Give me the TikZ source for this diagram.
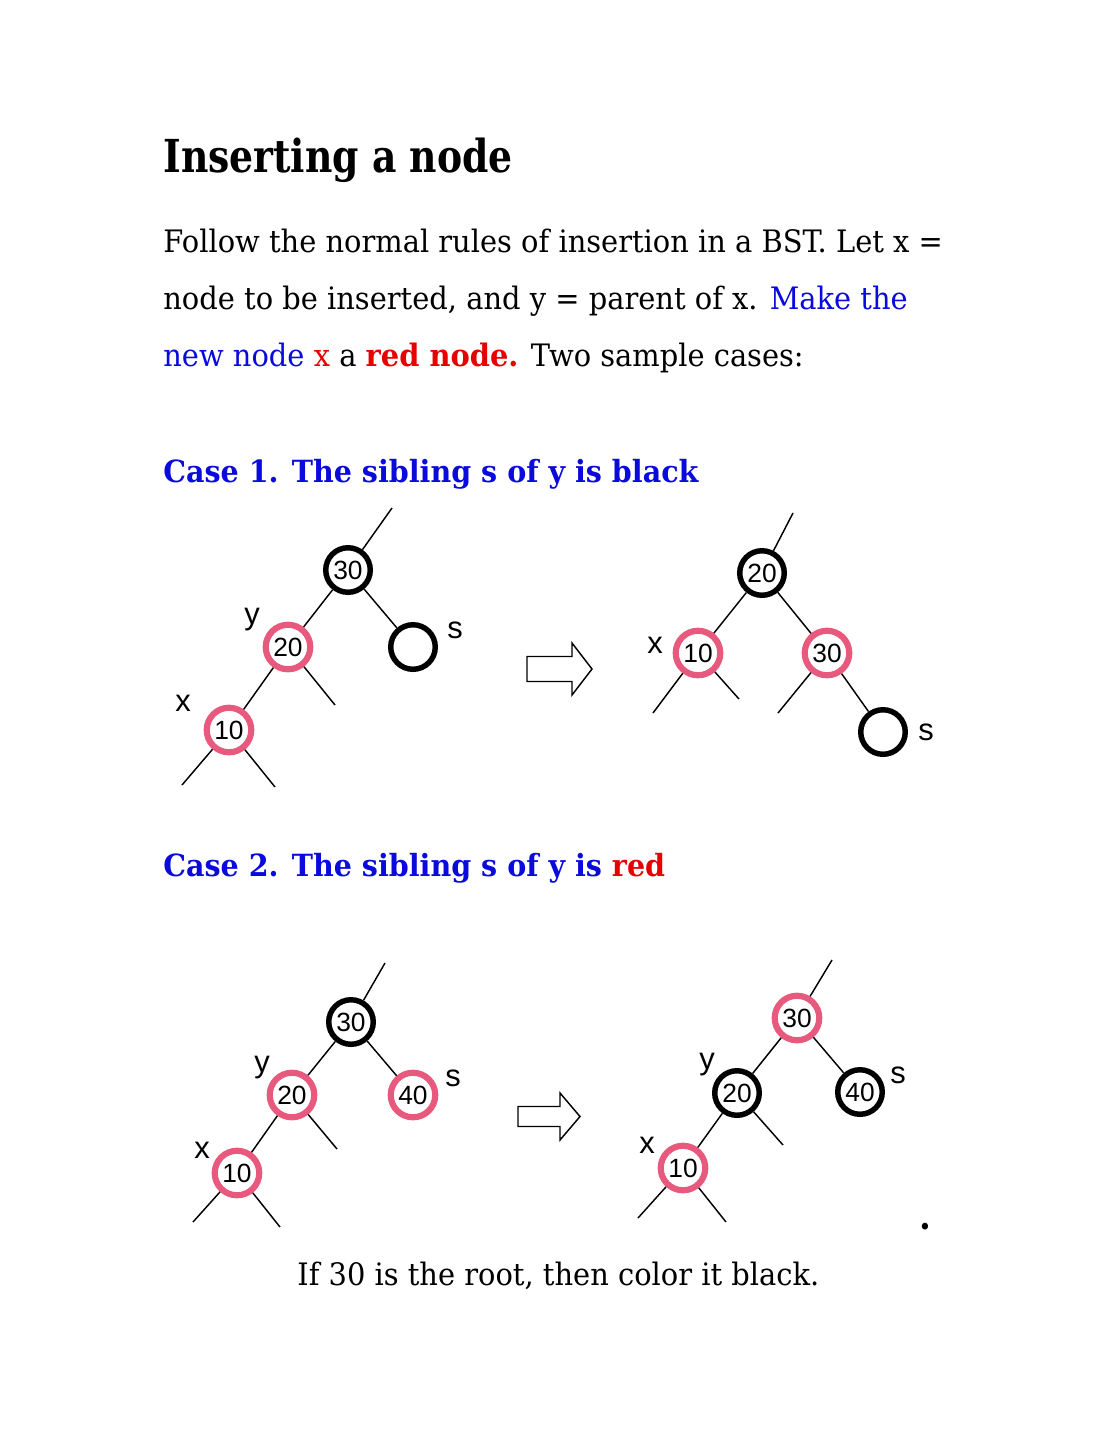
\documentclass[tikz,border=0pt]{standalone}
\usepackage{fontspec}
\setmainfont{DejaVu Serif}[FakeStretch=0.935]
\newfontfamily\titlefont{DejaVu Serif}[FakeStretch=0.83]
\newfontfamily\labelfont{Liberation Sans}
\usetikzlibrary{positioning}
\definecolor{rbpink}{HTML}{E85A7D}
\definecolor{txtblue}{HTML}{0A0ADC}
\definecolor{txtred}{HTML}{E60000}

\begin{document}
\begin{tikzpicture}[
        x=0.55pt, y=-0.55pt,
        body/.style={anchor=base west, inner sep=0pt, font=\fontsize{17}{20}\selectfont},
        heading/.style={anchor=base west, inner sep=0pt, text=txtblue, font=\fontsize{16.8}{20}\selectfont\bfseries},
        rbnode/.style={circle, minimum size=24.5pt, inner sep=0pt, fill=white, font=\labelfont\fontsize{14.5}{14.5}\selectfont},
        rednode/.style={rbnode, draw=rbpink, line width=3.4pt},
        blacknode/.style={rbnode, draw=black, line width=3pt},
        tag/.style={inner sep=0pt, font=\labelfont\fontsize{17}{17}\selectfont},
        edge/.style={line width=0.8pt},
        blockarr/.style={draw, line width=0.8pt, line join=miter}
    ]
        \useasboundingbox (0,0) rectangle (1113,1440);

        \node[anchor=base west, inner sep=0pt, font=\titlefont\fontsize{25}{30}\selectfont\bfseries] (title) at (163,172) {Inserting a node};
        \node[body] (line1) at (163,252) {Follow the normal rules of insertion in a BST. Let x =};
        \node[body] (line2) at (163,309) {node to be inserted, and y = parent of x. \textcolor{txtblue}{Make the}};
        \node[body] (line3) at (163,366) {\textcolor{txtblue}{new node} \textcolor{txtred}{x} a \textcolor{txtred}{\bfseries red node.} Two sample cases:};
        \node[heading] (case1) at (163,482) {Case 1. The sibling s of y is black};
        \node[heading] (case2) at (163,876) {Case 2. The sibling s of y is \textcolor{txtred}{red}};
        \node[body] (note) at (297,1285) {If 30 is the root, then color it black.};
        \node[body, font=\fontsize{20}{20}\selectfont\bfseries] (dot) at (919,1229) {.};

        % case 1, before
        \node[blacknode] (c1a30) at (348,570) {30};
        \node[rednode]   (c1a20) at (288,647) {20};
        \node[blacknode] (c1as)  at (413,647) {};
        \node[rednode]   (c1a10) at (229,730) {10};
        \node[tag] (c1ay) at (252,620) {y};
        \node[tag] (c1asl) at (455,630) {s};
        \node[tag] (c1ax) at (183,703) {x};
        \coordinate (c1atop) at (392,508);
        \coordinate (c1a20r) at (335,705);
        \coordinate (c1a10l) at (182,785);
        \coordinate (c1a10r) at (275,787);
        \draw[edge] (c1a30) -- (c1atop);
        \draw[edge] (c1a30) -- (c1a20);
        \draw[edge] (c1a30) -- (c1as);
        \draw[edge] (c1a20) -- (c1a10);
        \draw[edge] (c1a20) -- (c1a20r);
        \draw[edge] (c1a10) -- (c1a10l);
        \draw[edge] (c1a10) -- (c1a10r);

        \draw[blockarr] (527,656.5) -- (572,656.5) -- (572,643) -- (592,669) -- (572,695) -- (572,681.5) -- (527,681.5) -- cycle;

        % case 1, after
        \node[blacknode] (c1b20) at (762,573) {20};
        \node[rednode]   (c1b10) at (698,653) {10};
        \node[rednode]   (c1b30) at (827,653) {30};
        \node[blacknode] (c1bs)  at (883,732) {};
        \node[tag] (c1bx) at (655,645) {x};
        \node[tag] (c1bsl) at (926,732) {s};
        \coordinate (c1btop) at (793,513);
        \coordinate (c1b10l) at (653,713);
        \coordinate (c1b10r) at (739,699);
        \coordinate (c1b30l) at (778,713);
        \draw[edge] (c1b20) -- (c1btop);
        \draw[edge] (c1b20) -- (c1b10);
        \draw[edge] (c1b20) -- (c1b30);
        \draw[edge] (c1b30) -- (c1bs);
        \draw[edge] (c1b10) -- (c1b10l);
        \draw[edge] (c1b10) -- (c1b10r);
        \draw[edge] (c1b30) -- (c1b30l);

        % case 2, before
        \node[blacknode] (c2a30) at (351,1022) {30};
        \node[rednode]   (c2a20) at (292,1095) {20};
        \node[rednode]   (c2a40) at (413,1095) {40};
        \node[rednode]   (c2a10) at (237,1173) {10};
        \node[tag] (c2ay) at (262,1068) {y};
        \node[tag] (c2asl) at (453,1078) {s};
        \node[tag] (c2ax) at (202,1150) {x};
        \coordinate (c2atop) at (385,963);
        \coordinate (c2a20r) at (337,1149);
        \coordinate (c2a10l) at (193,1222);
        \coordinate (c2a10r) at (280,1227);
        \draw[edge] (c2a30) -- (c2atop);
        \draw[edge] (c2a30) -- (c2a20);
        \draw[edge] (c2a30) -- (c2a40);
        \draw[edge] (c2a20) -- (c2a10);
        \draw[edge] (c2a20) -- (c2a20r);
        \draw[edge] (c2a10) -- (c2a10l);
        \draw[edge] (c2a10) -- (c2a10r);

        \draw[blockarr] (518,1106.5) -- (560,1106.5) -- (560,1093) -- (580,1116.5) -- (560,1140) -- (560,1126.5) -- (518,1126.5) -- cycle;

        % case 2, after
        \node[rednode]   (c2b30) at (797,1018) {30};
        \node[blacknode] (c2b20) at (737,1093) {20};
        \node[blacknode] (c2b40) at (860,1092) {40};
        \node[rednode]   (c2b10) at (683,1168) {10};
        \node[tag] (c2by) at (707,1065) {y};
        \node[tag] (c2bsl) at (898,1075) {s};
        \node[tag] (c2bx) at (647,1145) {x};
        \coordinate (c2btop) at (832,960);
        \coordinate (c2b20r) at (783,1145);
        \coordinate (c2b10l) at (638,1218);
        \coordinate (c2b10r) at (726,1222);
        \draw[edge] (c2b30) -- (c2btop);
        \draw[edge] (c2b30) -- (c2b20);
        \draw[edge] (c2b30) -- (c2b40);
        \draw[edge] (c2b20) -- (c2b10);
        \draw[edge] (c2b20) -- (c2b20r);
        \draw[edge] (c2b10) -- (c2b10l);
        \draw[edge] (c2b10) -- (c2b10r);
    \end{tikzpicture}
\end{document}
